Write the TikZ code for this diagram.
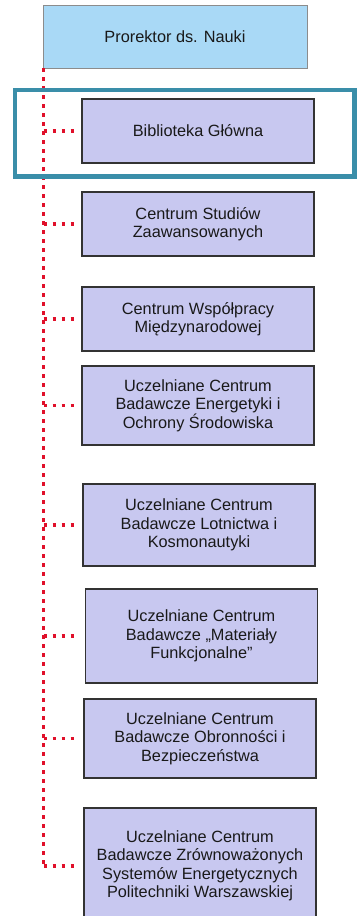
\documentclass[tikz,border=0pt]{standalone}
\usepackage{fontspec}
\setmainfont{Liberation Sans}
\usetikzlibrary{positioning}
\definecolor{prorBlue}{HTML}{A9D9F6}
\definecolor{unitLilac}{HTML}{C8C8F0}
\definecolor{dotRed}{HTML}{E0102A}
\definecolor{markTeal}{HTML}{3A8EA9}
\tikzset{
	unit/.style = {draw = black!80, line width = 1.3pt, fill = unitLilac,
		align = center, minimum width = 232pt, inner sep = 0pt,
		text = black!90, font = \fontsize{16.3}{18.5}\selectfont},
	dotline/.style = {draw = dotRed, line width = 3.6pt, dash pattern = on 3.4pt off 5.6pt}
}
% name, x, y, height, text
\newcommand{\myUnit}[5]{
\node[unit, minimum height = #4pt] (#1) at (#2,#3) {#5};
}

\begin{document}
\begin{tikzpicture}[x = 1pt, y = -1pt]
	\useasboundingbox (0,0) rectangle (357,916);

	\node[draw = black!45, line width = .8pt, fill = prorBlue, minimum width = 264pt,
		minimum height = 63pt, inner sep = 0pt, text = black!90,
		font = \fontsize{16.3}{18.5}\selectfont] (prorektor) at (175,36.5) {Prorektor ds. Nauki};

	\myUnit{bib}{198}{131}{64}{Biblioteka Główna}
	\myUnit{css}{198}{224}{64}{Centrum Studiów\\Zaawansowanych}
	\myUnit{cwm}{198}{319}{64}{Centrum Współpracy\\Międzynarodowej}
	\myUnit{ucbe}{198}{405.5}{79}{Uczelniane Centrum\\Badawcze Energetyki i\\Ochrony Środowiska}
	\myUnit{ucbl}{199}{525}{82}{Uczelniane Centrum\\Badawcze Lotnictwa i\\Kosmonautyki}
	\myUnit{ucbm}{201.5}{636}{94}{Uczelniane Centrum\\Badawcze „Materiały\\Funkcjonalne”}
	\myUnit{ucbo}{200}{738.5}{79}{Uczelniane Centrum\\Badawcze Obronności i\\Bezpieczeństwa}
	\myUnit{ucbz}{200}{866}{116}{Uczelniane Centrum\\Badawcze Zrównoważonych\\Systemów Energetycznych\\Politechniki Warszawskiej}

	% dotted spine and branches
	\coordinate (spine) at ([xshift = 1pt]prorektor.south west);
	\draw[dotline] (spine) -- (spine |- ucbz.west);
	\foreach \u in {bib, css, cwm, ucbe, ucbl, ucbm, ucbo, ucbz}
		\draw[dotline, shorten > = 6pt] (spine |- \u.west) -- (\u.west);

	% frame round the library
	\draw[markTeal, line width = 4.5pt] (15,90) rectangle (354.5,176.5);
\end{tikzpicture}
\end{document}
